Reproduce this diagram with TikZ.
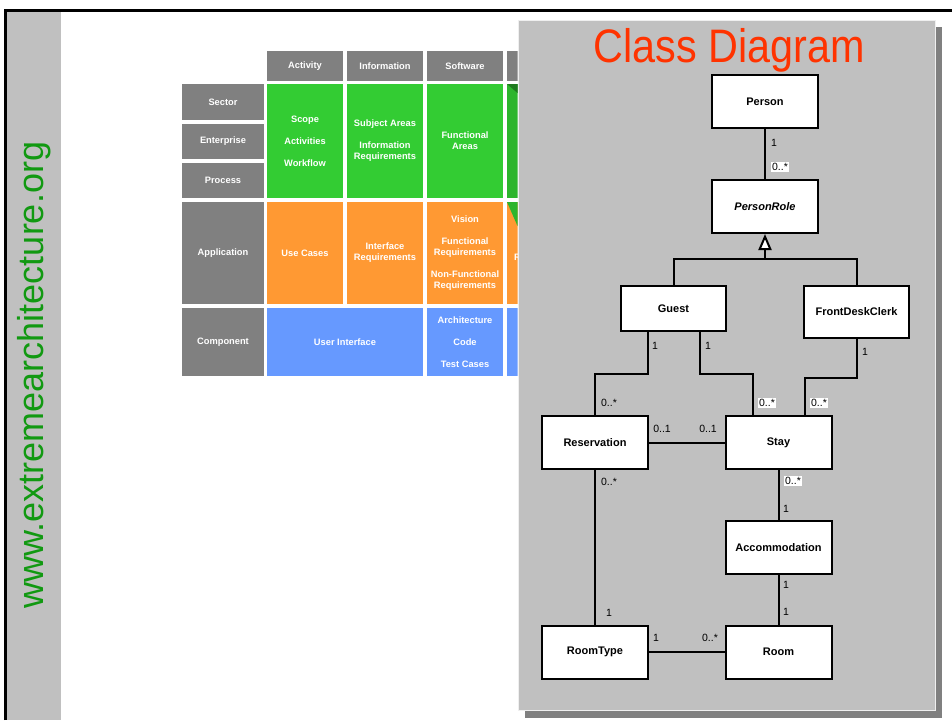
\documentclass[tikz,border=0pt]{standalone}
\usepackage{fontspec}
\setmainfont{Liberation Sans}
\usepackage{graphicx}
\usetikzlibrary{arrows.meta}

\definecolor{panelgray}{HTML}{C0C0C0}
\definecolor{headgray}{HTML}{808080}
\definecolor{zgreen}{HTML}{33CC33}
\definecolor{zgreendark}{HTML}{2DB52D}
\definecolor{zgreenfold}{HTML}{1E7A1E}
\definecolor{zorange}{HTML}{FF9933}
\definecolor{zblue}{HTML}{6699FF}
\definecolor{titlered}{HTML}{FF3300}
\definecolor{urlgreen}{HTML}{119911}

\tikzset{
  cell/.style={inner sep=0pt, text=white, align=center,
    font=\fontsize{9.3}{11}\selectfont\bfseries},
  cls/.style={draw=black, line width=2pt, fill=white, inner sep=0pt,
    minimum width=106pt, minimum height=53pt,
    font=\fontsize{11}{13}\selectfont\bfseries},
  mult/.style={inner sep=1.5pt, font=\fontsize{10.5}{12}\selectfont},
  multbg/.style={mult, fill=white},
  assoc/.style={line width=2pt}
}

\begin{document}
\begin{tikzpicture}[x=1pt,y=-1pt]
    \useasboundingbox (0,0) rectangle (952,720);
    \fill[white] (0,0) rectangle (952,720);

    % side strip and frame
    \fill[panelgray] (7,11) rectangle (61,720);
    \draw[line width=3pt] (5.5,720) -- (5.5,10) -- (952,10);
    \node[rotate=90, anchor=base, inner sep=0pt, text=urlgreen,
      font=\fontsize{36}{40}\selectfont] (url) at (43,375) {www.extremearchitecture.org};

    % column heads
    \node[cell, fill=headgray, minimum width=76pt, minimum height=30pt] (hact) at (305,66) {Activity};
    \node[cell, fill=headgray, minimum width=76pt, minimum height=30pt] (hinfo) at (385,66) {Information};
    \node[cell, fill=headgray, minimum width=76pt, minimum height=30pt] (hsoft) at (465,66) {Software};

    % row heads
    \node[cell, fill=headgray, minimum width=82pt, minimum height=36pt] (rsector) at (223,102) {Sector};
    \node[cell, fill=headgray, minimum width=82pt, minimum height=35pt] (renter) at (223,141.5) {Enterprise};
    \node[cell, fill=headgray, minimum width=82pt, minimum height=35pt] (rproc) at (223,180.5) {Process};
    \node[cell, fill=headgray, minimum width=82pt, minimum height=102pt] (rappl) at (223,253) {Application};
    \node[cell, fill=headgray, minimum width=82pt, minimum height=68pt] (rcomp) at (223,342) {Component};

    % business rows
    \node[cell, fill=zgreen, minimum width=76pt, minimum height=114pt] (gact) at (305,141)
      {Scope\\[11pt]Activities\\[11pt]Workflow};
    \node[cell, fill=zgreen, minimum width=76pt, minimum height=114pt] (ginfo) at (385,141)
      {Subject Areas\\[11pt]Information\\Requirements};
    \node[cell, fill=zgreen, minimum width=76pt, minimum height=114pt] (gsoft) at (465,141)
      {Functional\\Areas};

    % application row
    \node[cell, fill=zorange, minimum width=76pt, minimum height=102pt] (oact) at (305,253) {Use Cases};
    \node[cell, fill=zorange, minimum width=76pt, minimum height=102pt] (oinfo) at (385,253)
      {Interface\\Requirements};
    \node[cell, fill=zorange, minimum width=76pt, minimum height=102pt] (osoft) at (465,253)
      {Vision\\[11pt]Functional\\Requirements\\[11pt]Non-Functional\\Requirements};

    % component row
    \node[cell, fill=zblue, minimum width=156pt, minimum height=68pt] (bui) at (345,342) {User Interface};
    \node[cell, fill=zblue, minimum width=76pt, minimum height=68pt] (bsoft) at (465,342)
      {Architecture\\[11pt]Code\\[11pt]Test Cases};

    % fourth column, mostly behind the panel
    \begin{scope}
      \clip (507,40) rectangle (517.5,380);
      \fill[headgray] (507,51) rectangle (583,81);
      \fill[zgreendark] (507,84) rectangle (583,198);
      \fill[zgreenfold] (507,84) -- (517.5,84) -- (517.5,93) -- cycle;
      \fill[zorange] (507,202) rectangle (583,304);
      \fill[zgreendark] (507,202) -- (517.5,202) -- (517.5,226) -- cycle;
      \node[cell] (ofour) at (545,258) {Requirements};
      \fill[zblue] (507,308) rectangle (583,376);
    \end{scope}

    % class diagram panel
    \fill[headgray] (525,27) rectangle (942,718);
    \draw[line width=1pt, draw=white!75!panelgray, fill=panelgray] (518,20) rectangle (935,710);
    \node[anchor=base, inner sep=0pt, text=titlered, font=\fontsize{47}{50}\selectfont] (title)
      at (729.5,62) {\scalebox{0.88}[1]{Class Diagram}};

    % classes
    \node[cls] (person) at (765,101.5) {Person};
    \node[cls] (role) at (765,206.5) {\itshape PersonRole};
    \node[cls, minimum width=105pt, minimum height=45pt] (guest) at (673.5,308.5) {Guest};
    \node[cls, minimum width=105pt, minimum height=52pt] (clerk) at (856.5,312) {FrontDeskClerk};
    \node[cls] (res) at (595,442.5) {Reservation};
    \node[cls] (stay) at (778.5,442.5) {Stay};
    \node[cls] (acc) at (778.5,547.5) {Accommodation};
    \node[cls] (rtype) at (595,652) {RoomType};
    \node[cls] (room) at (778.5,652) {Room};

    % generalization
    \coordinate (fork) at (765,259);
    \draw[assoc] (guest.north) |- (fork) -| (clerk.north);
    \draw[assoc, -{Triangle[open, fill=white, length=16pt, width=13pt]}] (fork) -- (role.south);

    % associations
    \draw[assoc] (person) -- (role);
    \draw[assoc] ([xshift=-26pt]guest.south) -- ++(0,42) -| (res.north);
    \draw[assoc] ([xshift=26pt]guest.south) -- ++(0,42) -| ([xshift=-26pt]stay.north);
    \draw[assoc] (clerk.south) -- ++(0,39) -| ([xshift=26pt]stay.north);
    \draw[assoc] (res) -- (stay);
    \draw[assoc] (stay) -- (acc);
    \draw[assoc] (acc) -- (room);
    \draw[assoc] (res) -- (rtype);
    \draw[assoc] (rtype) -- (room);

    % multiplicities
    \node[mult] (m1) at (774,143) {1};
    \node[multbg] (m2) at (780,167) {0..*};
    \node[mult] (m3) at (655,346) {1};
    \node[mult] (m4) at (609,403) {0..*};
    \node[mult] (m5) at (708,346) {1};
    \node[multbg] (m6) at (767,403) {0..*};
    \node[mult] (m7) at (865,352) {1};
    \node[multbg] (m8) at (819,403) {0..*};
    \node[mult] (m9) at (662,429) {0..1};
    \node[mult] (m10) at (708,429) {0..1};
    \node[multbg] (m11) at (793,481) {0..*};
    \node[mult] (m12) at (786,509) {1};
    \node[mult] (m13) at (786,585) {1};
    \node[mult] (m14) at (786,612) {1};
    \node[mult] (m15) at (609,482) {0..*};
    \node[mult] (m16) at (609,613) {1};
    \node[mult] (m17) at (656,638) {1};
    \node[mult] (m18) at (710,638) {0..*};
\end{tikzpicture}
\end{document}
